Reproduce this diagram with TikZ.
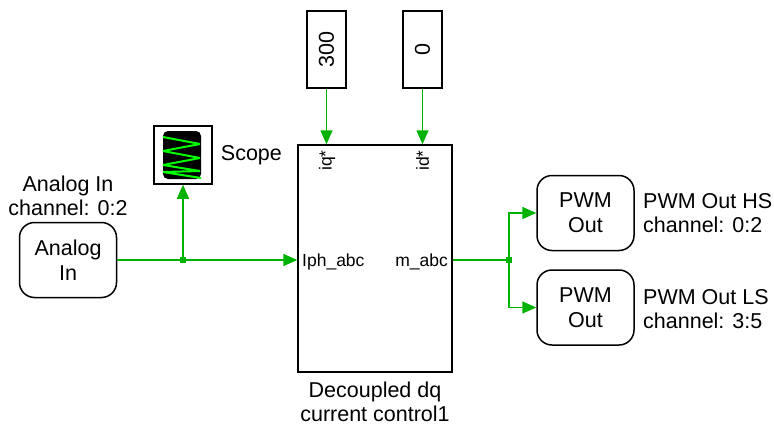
\documentclass[tikz,border=0pt]{standalone}
\usepackage{fontspec}
\setmainfont{Liberation Sans}
\usetikzlibrary{positioning,arrows.meta}

\definecolor{sig}{RGB}{0,178,0}
\definecolor{trace}{RGB}{0,255,0}

\begin{document}
\begin{tikzpicture}[x=1pt, y=-1pt,
    blk/.style={rectangle, draw, line width=1.5pt, inner sep=0pt},
    io/.style={blk, rounded corners=15pt, minimum width=97pt, minimum height=75pt, align=center, font=\fontsize{21.5}{25}\selectfont},
    const/.style={blk, minimum width=39pt, minimum height=77pt, font=\fontsize{21.5}{25}\selectfont},
    lbl/.style={inner sep=0pt, align=left, font=\fontsize{21.5}{24}\selectfont},
    port/.style={inner sep=0pt, font=\fontsize{17.5}{19}\selectfont},
    wire/.style={draw=sig, line width=1.5pt},
    sigarrow/.style={wire, -{Triangle[length=14pt,width=12pt]}},
    dot/.style={rectangle, fill=sig, minimum size=6pt, inner sep=0pt}]
    \useasboundingbox (0,0) rectangle (774,426);

    % blocks
    \node[io] (ain) at (68,260) {Analog\\In};
    \node[lbl, align=center] (ainlbl) at (68,196) {Analog In\\channel: 0:2};

    \node[blk, minimum size=58pt] (scope) at (183,155) {};
    \fill[black, rounded corners=5pt] (163,131) rectangle (201,179);
    \draw[trace, line width=2pt, line join=bevel] (163,137) -- (200,144) -- (163,151) -- (200,158) -- (163,165) -- (200,171) -- (163,172) -- (201,178);
    \node[lbl, right=8pt of scope] (scopelbl) {Scope};

    \node[const] (c300) at (326.5,49.5) {\rotatebox{90}{300}};
    \node[const] (czero) at (422.5,49.5) {\rotatebox{90}{0}};

    \node[blk, minimum width=154pt, minimum height=227pt] (ctrl) at (375,258.5) {};
    \node[port, anchor=west] (iph) at (302,262) {Iph\_abc};
    \node[port, anchor=east] (mabc) at (448,262) {m\_abc};
    \node[port, rotate=90, anchor=east] (iq) at (327,150) {iq*};
    \node[port, rotate=90, anchor=east] (id) at (422.5,150) {id*};
    \node[lbl, align=center, below=9pt of ctrl] (ctrllbl) {Decoupled dq\\current control1};

    \node[io] (pwmhs) at (585.5,213) {PWM\\Out};
    \node[io] (pwmls) at (585.5,307.5) {PWM\\Out};
    \node[lbl, anchor=west] (hslbl) at (643,213) {PWM Out HS\\channel: 0:2};
    \node[lbl, anchor=west] (lslbl) at (643,309) {PWM Out LS\\channel: 3:5};

    % signals
    \coordinate (jin) at (183,260);
    \coordinate (jout) at (509,260);
    \draw[sigarrow] (ain.east) -- (ain.east -| ctrl.west);
    \draw[sigarrow] (jin) -- (scope.south);
    \node[dot] at (jin) {};
    \draw[sigarrow] (c300.south) -- (c300.south |- ctrl.north);
    \draw[sigarrow] (czero.south) -- (czero.south |- ctrl.north);
    \draw[wire] (jout -| ctrl.east) -- (jout);
    \draw[sigarrow] (jout) |- (pwmhs.west);
    \draw[sigarrow] (jout) |- (pwmls.west);
    \node[dot] at (jout) {};
\end{tikzpicture}
\end{document}
